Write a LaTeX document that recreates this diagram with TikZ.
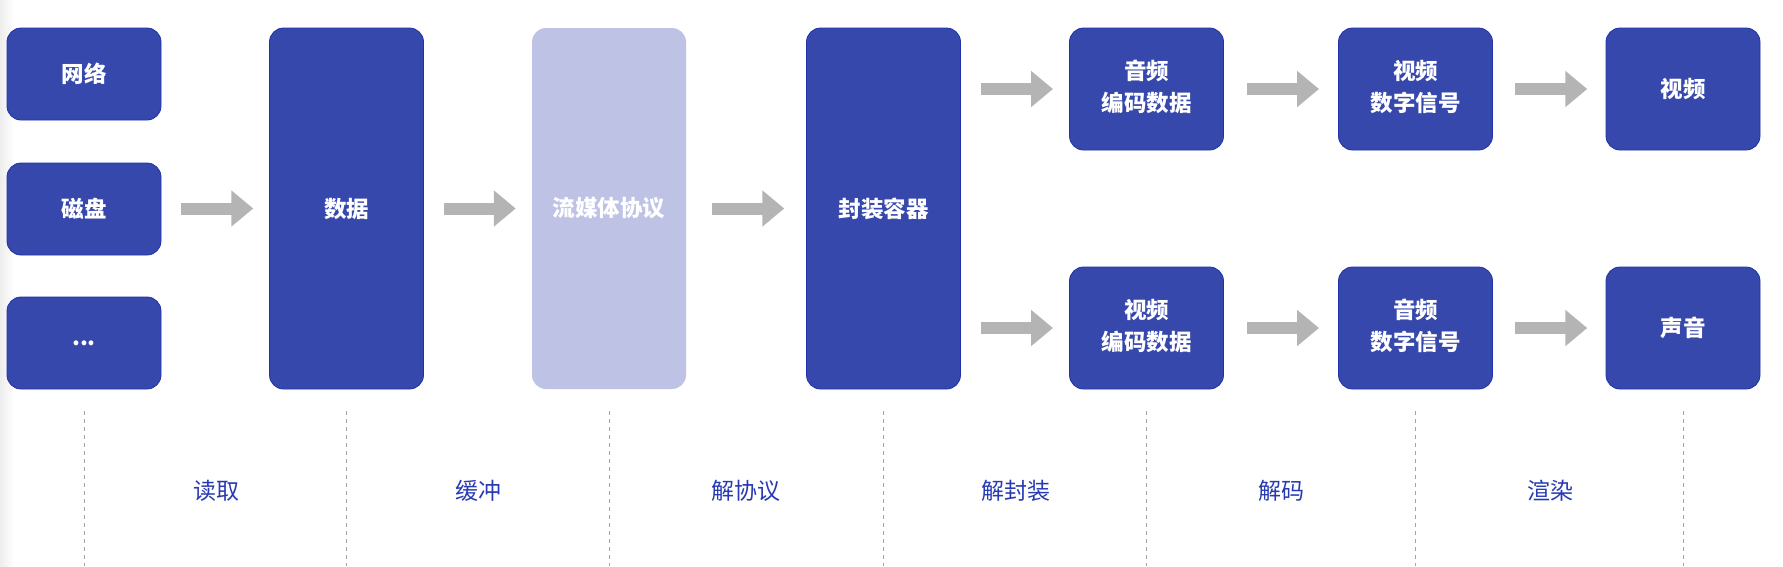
\documentclass[tikz,border=0pt]{standalone}
\usepackage{fontspec}
\setmainfont{Noto Sans CJK SC}
\usetikzlibrary{arrows.meta,calc}
\definecolor{boxblue}{RGB}{55,72,172}
\definecolor{boxedge}{RGB}{32,50,170}
\definecolor{lightbox}{RGB}{190,195,229}
\definecolor{arrowgray}{RGB}{180,180,180}
\definecolor{labblue}{RGB}{40,58,178}
\definecolor{dashgray}{RGB}{165,165,165}
\begin{document}
\begin{tikzpicture}[x=1pt,y=-1pt,
  box/.style={draw=boxedge, line width=0.8pt, fill=boxblue, rounded corners=14pt,
    text=white, font=\fontsize{22.5}{32}\selectfont\bfseries, align=center,
    inner sep=0pt, minimum width=154pt},
  smallbox/.style={box, minimum height=92pt},
  midbox/.style={box, minimum height=122pt},
  tallbox/.style={box, minimum height=361pt},
  lightstyle/.style={draw=none, fill=lightbox},
  twoline/.style={text height=19pt},
  fat/.style={draw=arrowgray, line width=12pt, -{Triangle[length=22pt,width=35pt]}},
  dashl/.style={draw=dashgray, line width=1pt, dash pattern=on 4pt off 4pt},
  lab/.style={text=labblue, font=\fontsize{23}{27}\selectfont, inner sep=0pt}
]
\useasboundingbox (0,0) rectangle (1783,566);
\fill[white] (0,0) rectangle (1783,566);
\shade[left color=black!7, right color=white] (0,0) rectangle (14,566);
\coordinate (bot) at (0,566);

% column 1
\node[smallbox] (net)  at (84,74)  {网络};
\node[smallbox] (disk) at (84,209) {磁盘};
\node[smallbox] (dots) at (84,343) {...};
% tall columns
\node[tallbox] (data)  at (346.5,208.5) {数据};
\node[tallbox, lightstyle] (proto) at (609,208.5) {流媒体协议};
\node[tallbox] (cont)  at (883.5,208.5) {封装容器};
% right part
\node[midbox] (ad)  at (1146.5,89)  {\raisebox{-3pt}{\begin{tabular}{@{}c@{}}音频\\编码数据\end{tabular}}};
\node[midbox] (vd)  at (1146.5,328) {\raisebox{-3pt}{\begin{tabular}{@{}c@{}}视频\\编码数据\end{tabular}}};
\node[midbox] (vs)  at (1415.5,89)  {\raisebox{-3pt}{\begin{tabular}{@{}c@{}}视频\\数字信号\end{tabular}}};
\node[midbox] (as)  at (1415.5,328) {\raisebox{-3pt}{\begin{tabular}{@{}c@{}}音频\\数字信号\end{tabular}}};
\node[midbox] (vid) at (1683,89)    {视频};
\node[midbox] (snd) at (1683,328)   {声音};

% arrows
\foreach \a/\b in {disk/data, data/proto, proto/cont, cont/ad, cont/vd, ad/vs, vd/as, vs/vid, as/snd}{
  \draw[fat] ($(\a.east|-\b.west)!0.5!(\b.west)+(-34,0)$) -- ++(72,0);
}

% dashed separators
\foreach \n in {dots, data, proto, cont, vd, as, snd}{
  \draw[dashl] ($(\n.south)+(0,22)$) -- (\n.south |- bot);
}

% stage labels
\node[lab] (l1) at (216,491)  {读取};
\node[lab] (l2) at (478,491)  {缓冲};
\node[lab] (l3) at (746,491)  {解协议};
\node[lab] (l4) at (1016,491) {解封装};
\node[lab] (l5) at (1281,491) {解码};
\node[lab] (l6) at (1550,491) {渲染};
\end{tikzpicture}
\end{document}
